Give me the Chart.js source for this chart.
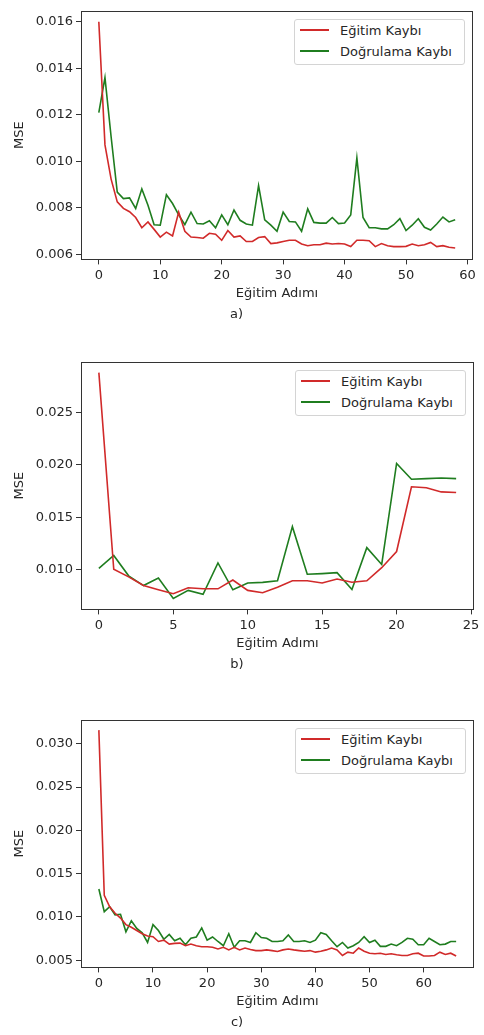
<!DOCTYPE html>
<html>
<head>
<meta charset="utf-8">
<script src="https://cdn.jsdelivr.net/npm/chart.js@4.4.0/dist/chart.umd.min.js"></script>
<style>
  body { margin: 0; background: #fff; width: 484px; height: 1035px; position: relative; overflow: hidden; font-family: "DejaVu Sans", sans-serif; }
  canvas { position: absolute; left: 0; }
  .legend { position: absolute; box-sizing: border-box; width: 171px; height: 46px; border: 1px solid #d4d4d4; border-radius: 3px; background: #fff; padding: 0 0 0 5px; font-size: 13px; color: #262626; }
  .legend .row { display: flex; align-items: center; height: 21px; }
  .legend .sw { width: 29px; height: 2px; margin-right: 11px; }
</style>
</head>
<body>
<canvas id="chartA" width="484" height="322" style="top:0px"></canvas>
<canvas id="chartB" width="484" height="321" style="top:351px"></canvas>
<canvas id="chartC" width="484" height="321" style="top:709px"></canvas>
<script>
// a) training / validation loss per step
const trainA = [0.0160, 0.01071, 0.00924, 0.00826, 0.00798, 0.00784, 0.00759, 0.00715, 0.0074, 0.00708,
  0.00675, 0.00696, 0.0068, 0.00782, 0.0070, 0.00675, 0.00673, 0.0067, 0.00691, 0.00687,
  0.00661, 0.00703, 0.00675, 0.0068, 0.00656, 0.00656, 0.00673, 0.00677, 0.00647, 0.0065,
  0.00656, 0.00661, 0.00661, 0.00645, 0.00638, 0.00642, 0.00642, 0.00649, 0.00645, 0.00647,
  0.00645, 0.00634, 0.00661, 0.00661, 0.00659, 0.00634, 0.00647, 0.00638, 0.00634, 0.00634,
  0.00635, 0.00645, 0.00638, 0.00642, 0.00652, 0.00634, 0.00638, 0.00631, 0.00628];
const valA = [0.0121, 0.0136, 0.01106, 0.00868, 0.0084, 0.00843, 0.00798, 0.00882, 0.00812, 0.00728,
  0.00726, 0.00857, 0.00819, 0.0077, 0.00728, 0.00782, 0.00733, 0.00731, 0.00745, 0.00715,
  0.0077, 0.00728, 0.00791, 0.00747, 0.00731, 0.00726, 0.00896, 0.00749, 0.00726, 0.0070,
  0.00782, 0.00742, 0.0074, 0.0070, 0.00796, 0.00738, 0.00735, 0.00735, 0.00759, 0.00733,
  0.00735, 0.0077, 0.01015, 0.00759, 0.00715, 0.00715, 0.0071, 0.0071, 0.00728, 0.00754,
  0.00703, 0.00726, 0.00754, 0.00717, 0.00705, 0.00731, 0.00761, 0.0074, 0.00749];

// b)
const trainB = [0.02877, 0.01004, 0.00932, 0.00849, 0.00809, 0.00772, 0.00828, 0.00818, 0.00818, 0.00902,
  0.00803, 0.00781, 0.00833, 0.00895, 0.00895, 0.00874, 0.00911, 0.0088, 0.00895, 0.01019,
  0.01173, 0.0179, 0.01781, 0.01741, 0.01735];
const valB = [0.01013, 0.01136, 0.00942, 0.00849, 0.0092, 0.00726, 0.00803, 0.00766, 0.01065, 0.00809,
  0.00874, 0.00879, 0.00895, 0.0141, 0.00957, 0.00963, 0.00972, 0.00812, 0.0121, 0.0105,
  0.02012, 0.01861, 0.01867, 0.01873, 0.01867];

// c)
const trainC = [0.03157, 0.01249, 0.01118, 0.01043, 0.00987, 0.00912, 0.00882, 0.00844, 0.00807, 0.00781,
  0.00773, 0.00717, 0.00732, 0.00687, 0.00695, 0.00698, 0.00668, 0.00687, 0.00668, 0.00657,
  0.00657, 0.0065, 0.00631, 0.0065, 0.0062, 0.0065, 0.0062, 0.00642, 0.00624, 0.00612,
  0.00612, 0.0062, 0.00612, 0.00601, 0.0062, 0.00631, 0.0062, 0.00612, 0.00605, 0.00612,
  0.00594, 0.00605, 0.0062, 0.00642, 0.0062, 0.00556, 0.00594, 0.00582, 0.00642, 0.00605,
  0.00582, 0.00575, 0.00582, 0.00567, 0.00575, 0.00564, 0.00556, 0.00556, 0.00575, 0.00582,
  0.00549, 0.00549, 0.00556, 0.00594, 0.00567, 0.00582, 0.00549];
const valC = [0.01323, 0.01061, 0.01118, 0.01024, 0.01031, 0.00829, 0.00957, 0.00867, 0.00818, 0.00706,
  0.00912, 0.00844, 0.00743, 0.00799, 0.00725, 0.00754, 0.0068, 0.00754, 0.00769, 0.00874,
  0.00732, 0.00769, 0.00717, 0.00668, 0.00807, 0.0065, 0.00725, 0.00725, 0.00706, 0.00818,
  0.00762, 0.00754, 0.00717, 0.00717, 0.00725, 0.00792, 0.00717, 0.00717, 0.00725, 0.00706,
  0.00732, 0.00818, 0.00799, 0.00725, 0.00657, 0.00706, 0.00642, 0.00668, 0.00706, 0.00773,
  0.00706, 0.00732, 0.00661, 0.00661, 0.00687, 0.00668, 0.00706, 0.00754, 0.00743, 0.0068,
  0.0068, 0.00754, 0.00717, 0.0068, 0.00687, 0.00717, 0.00717];

const xTicksA = [0, 10, 20, 30, 40, 50, 60];
const yTicksA = [0.006, 0.008, 0.010, 0.012, 0.014, 0.016];
const xTicksB = [0, 5, 10, 15, 20, 25];
const yTicksB = [0.010, 0.015, 0.020, 0.025];
const xTicksC = [0, 10, 20, 30, 40, 50, 60];
const yTicksC = [0.005, 0.010, 0.015, 0.020, 0.025, 0.030];

const seriesNames = ['Eğitim Kaybı', 'Doğrulama Kaybı'];
const seriesColors = ['#d12a2a', '#1f7d1f'];
const xLabel = 'Eğitim Adımı';
const yLabel = 'MSE';

Chart.defaults.font.family = "'DejaVu Sans', sans-serif";
Chart.defaults.font.size = 13;
Chart.defaults.color = '#262626';

// matplotlib style box around the plot area
const frame = {
  id: 'frame',
  afterDraw(chart) {
    const a = chart.chartArea, ctx = chart.ctx;
    ctx.save();
    ctx.strokeStyle = '#333';
    ctx.lineWidth = 1;
    ctx.strokeRect(Math.round(a.left) + 0.5, Math.round(a.top) + 0.5, Math.round(a.width) - 1, Math.round(a.height) - 1);
    ctx.restore();
  }
};

function toPoints(vals) {
  return vals.map((v, i) => ({x: i, y: v}));
}

function makePanel(id, train, val, xTicks, yTicks, xr, yr, caption, padRight) {
  const canvas = document.getElementById(id);
  const chart = new Chart(canvas, {
    type: 'line',
    data: {
      datasets: [train, val].map((d, k) => ({
        label: seriesNames[k],
        data: toPoints(d),
        borderColor: seriesColors[k],
        borderWidth: 1.6,
        pointRadius: 0,
        tension: 0,
        fill: false
      }))
    },
    options: {
      responsive: false,
      animation: false,
      layout: {padding: {top: 4, right: padRight, bottom: 0, left: 0}},
      plugins: {
        legend: {display: false},
        tooltip: {enabled: false},
        title: {display: true, text: caption, position: 'bottom', padding: {top: 2, bottom: 0},
                font: {size: 13, weight: 'normal'}, color: '#262626'}
      },
      scales: {
        x: {
          type: 'linear', min: xr[0], max: xr[1],
          afterBuildTicks: s => { s.ticks = xTicks.map(v => ({value: v})); },
          afterFit: s => { s.height = 45; },
          grid: {drawOnChartArea: false, tickLength: 5, color: '#333'},
          border: {display: false},
          ticks: {padding: 3, maxRotation: 0, callback: v => String(v)},
          title: {display: true, text: xLabel, padding: {top: 0, bottom: 3}}
        },
        y: {
          type: 'linear', min: yr[0], max: yr[1],
          afterBuildTicks: s => { s.ticks = yTicks.map(v => ({value: v})); },
          afterFit: s => { s.width = 81; },
          grid: {drawOnChartArea: false, tickLength: 5, color: '#333'},
          border: {display: false},
          ticks: {padding: 3, callback: v => v.toFixed(3)},
          title: {display: true, text: yLabel, padding: {top: 12, bottom: 0}}
        }
      }
    },
    plugins: [frame]
  });

  // legend in the upper right corner of the plot area
  const a = chart.chartArea;
  const box = document.createElement('div');
  box.className = 'legend';
  box.style.left = (a.right - 8 - 171) + 'px';
  box.style.top = (canvas.offsetTop + a.top + 8) + 'px';
  chart.data.datasets.forEach(ds => {
    const row = document.createElement('div');
    row.className = 'row';
    const sw = document.createElement('span');
    sw.className = 'sw';
    sw.style.background = ds.borderColor;
    const t = document.createElement('span');
    t.textContent = ds.label;
    row.appendChild(sw);
    row.appendChild(t);
    box.appendChild(row);
  });
  document.body.appendChild(box);
}

makePanel('chartA', trainA, valA, xTicksA, yTicksA, [-2.9, 60.9], [0.00579, 0.01647], 'a)', 11);
makePanel('chartB', trainB, valB, xTicksB, yTicksB, [-1.2, 25.2], [0.00622, 0.02980], 'b)', 10);
makePanel('chartC', trainC, valC, xTicksC, yTicksC, [-3.3, 69.3], [0.00418, 0.03276], 'c)', 10);
</script>
</body>
</html>
